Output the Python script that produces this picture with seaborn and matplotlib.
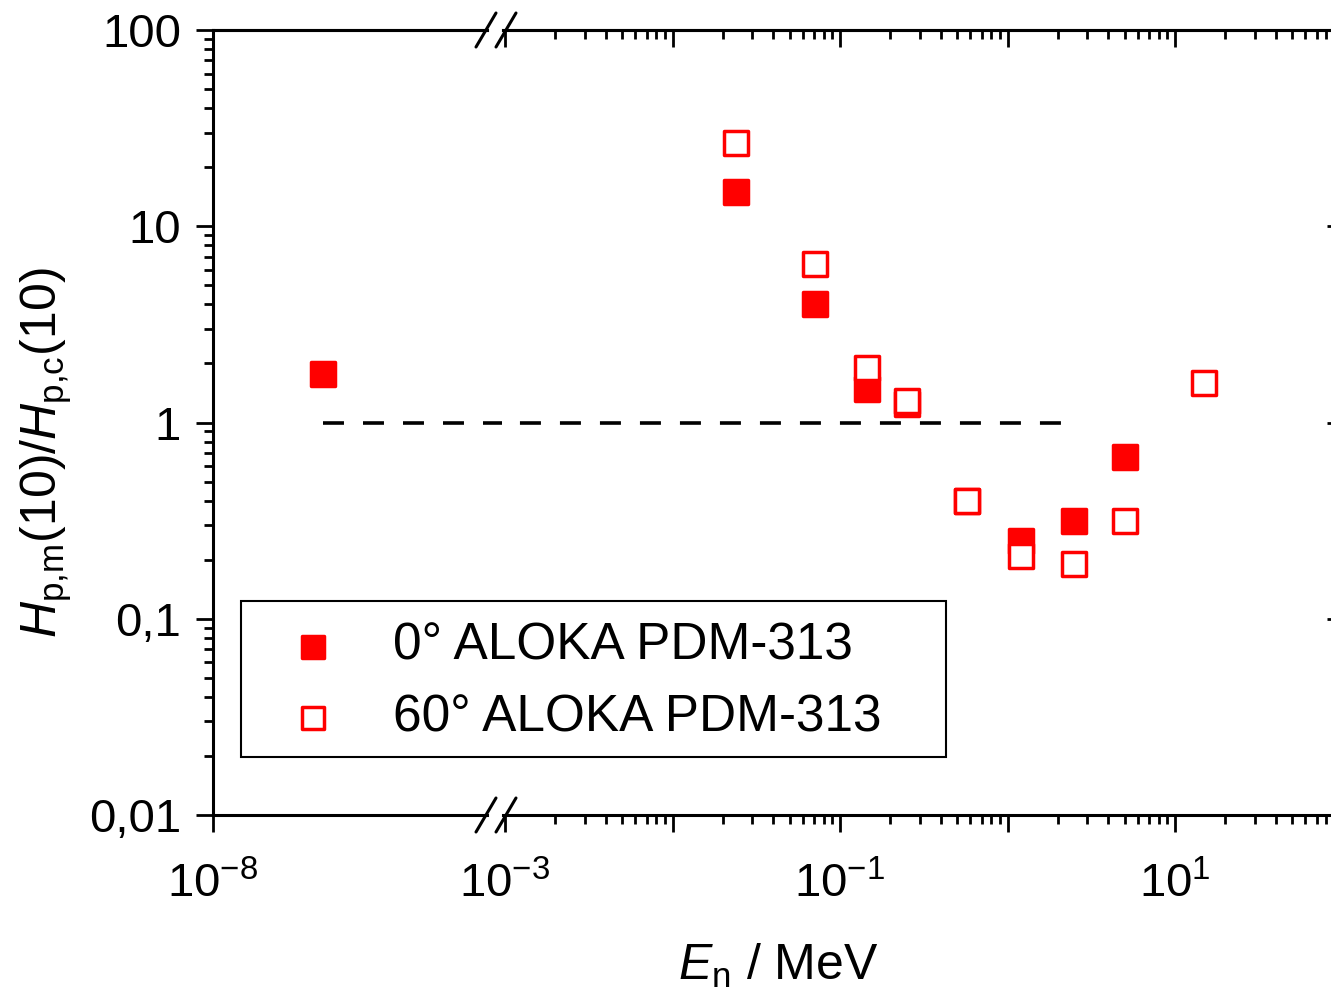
import matplotlib
matplotlib.use("Agg")
import matplotlib.pyplot as plt
import numpy as np
import pandas as pd
import seaborn as sns
from matplotlib.lines import Line2D
from matplotlib.patches import Rectangle
from matplotlib.ticker import LogLocator, NullFormatter

# measured ratios H_p,m(10)/H_p,c(10) for the ALOKA PDM-313
energy_0deg = [2.5e-8, 0.024, 0.071, 0.144, 0.25, 0.57, 1.2, 2.5, 5.0]
ratio_0deg = [1.77, 14.9, 4.0, 1.48, 1.24, 0.40, 0.25, 0.315, 0.667]
energy_60deg = [0.024, 0.071, 0.144, 0.25, 0.57, 1.2, 2.5, 5.0, 14.8]
ratio_60deg = [26.6, 6.4, 1.9, 1.29, 0.40, 0.21, 0.19, 0.315, 1.59]
label_0deg = "0° ALOKA PDM-313"
label_60deg = "60° ALOKA PDM-313"

reference_level = 1.0
reference_span = [2.5e-8, 2.2]

y_ticks = [0.01, 0.1, 1, 10, 100]
y_tick_labels = ["0,01", "0,1", "1", "10", "100"]
x_ticks_left = [1e-8]
x_tick_labels_left = [r"$10^{-8}$"]
x_ticks_right = [1e-3, 1e-2, 1e-1, 1e0, 1e1, 1e2]
x_tick_labels_right = [r"$10^{-3}$", "", r"$10^{-1}$", "", r"$10^{1}$", ""]

left_xlim = (1e-8, 10 ** (-8 + 274 / 276))
right_xlim = (10 ** (-3 - 2 / 167.5), 10 ** (-3 + 839 / 167.5))
y_lim = (0.01, 100)

W, H = 1331, 997
sns.set_style("ticks")
plt.rcParams.update({
    "font.family": ["Liberation Sans", "DejaVu Sans"],
    "mathtext.fontset": "custom",
    "mathtext.rm": "Liberation Sans",
    "mathtext.it": "Liberation Sans:italic",
    "mathtext.bf": "Liberation Sans:bold",
    "lines.scale_dashes": False,
    "text.color": "black",
    "axes.edgecolor": "black",
    "xtick.color": "black",
    "ytick.color": "black",
    "axes.labelcolor": "black",
})

df = pd.concat([
    pd.DataFrame({"energy": energy_0deg, "ratio": ratio_0deg, "series": label_0deg}),
    pd.DataFrame({"energy": energy_60deg, "ratio": ratio_60deg, "series": label_60deg}),
])

fig = plt.figure(figsize=(W / 100, H / 100), dpi=100)
ax_l = fig.add_axes([213 / W, 1 - 815 / H, (487 - 213) / W, 785 / H])
ax_r = fig.add_axes([503 / W, 1 - 815 / H, (1344 - 503) / W, 785 / H], sharey=ax_l)

minor = LogLocator(base=10, subs=np.arange(2, 10), numticks=200)
red = "#ff0000"
lw_spine = 2.2

for ax, xlim in ((ax_l, left_xlim), (ax_r, right_xlim)):
    ax.set_xscale("log")
    ax.set_yscale("log")
    ax.set_xlim(*xlim)
    ax.set_ylim(*y_lim)
    sub = df[(df["energy"] >= xlim[0]) & (df["energy"] <= xlim[1])]
    filled = sub[sub["series"] == label_0deg]
    hollow = sub[sub["series"] == label_60deg]
    if len(filled):
        sns.scatterplot(data=filled, x="energy", y="ratio", marker="s", s=300,
                        color=red, edgecolor=red, linewidth=2.5, zorder=3,
                        label=label_0deg, ax=ax)
    if len(hollow):
        sns.scatterplot(data=hollow, x="energy", y="ratio", marker="s", s=300,
                        color="white", edgecolor=red, linewidth=2.5, zorder=4,
                        label=label_60deg, ax=ax)
    # dashed reference line, continued over the axis break
    if ax is ax_l:
        lo, hi, offset = reference_span[0], 10 ** (-8 + (502 - 213) / 276), 0
    else:
        lo, hi, offset = xlim[0], reference_span[1], 16.6
    ax.plot([lo, hi], [reference_level, reference_level], color="black", lw=2.6,
            linestyle=(offset, (15.1, 13.7)), zorder=2, clip_on=False)
    ax.set_xlabel("")
    ax.set_ylabel("")
    if ax.get_legend() is not None:
        ax.get_legend().remove()
    for s in ax.spines.values():
        s.set_linewidth(lw_spine)
    ax.xaxis.set_minor_locator(minor)
    ax.xaxis.set_minor_formatter(NullFormatter())
    ax.tick_params(axis="x", which="both", direction="out", bottom=True, top=False,
                   width=2, labelsize=34, pad=22)
    ax.tick_params(axis="both", which="major", length=12)
    ax.tick_params(axis="both", which="minor", length=6.5, width=2)
    top = ax.secondary_xaxis("top")
    top.set_xticks(x_ticks_left if ax is ax_l else x_ticks_right)
    top.xaxis.set_minor_locator(minor)
    top.xaxis.set_major_formatter(NullFormatter())
    top.xaxis.set_minor_formatter(NullFormatter())
    top.tick_params(axis="x", which="both", direction="in", width=2)
    top.tick_params(axis="x", which="major", length=12)
    top.tick_params(axis="x", which="minor", length=6.5)
    top.spines["top"].set_linewidth(lw_spine)

ax_l.set_xticks(x_ticks_left, labels=x_tick_labels_left)
ax_r.set_xticks(x_ticks_right, labels=x_tick_labels_right)

ax_l.set_yticks(y_ticks, labels=y_tick_labels)
ax_l.yaxis.set_minor_locator(minor)
ax_l.yaxis.set_minor_formatter(NullFormatter())
ax_l.tick_params(axis="y", which="both", direction="out", left=True, right=False,
                 labelsize=34, pad=11, width=2)
ax_l.spines["right"].set_visible(False)

ax_r.spines["left"].set_visible(False)
ax_r.tick_params(axis="y", which="both", direction="in", left=False, right=True,
                 labelleft=False, labelright=False, width=2)

# break marks on the x axis
for yb in (832, 47):
    for xb in (476, 496):
        fig.add_artist(Line2D([xb / W, (xb + 20) / W], [1 - yb / H, 1 - (yb - 34) / H],
                              transform=fig.transFigure, color="black", lw=2.2))

fig.text(778 / W, 1 - 980 / H, r"$E_{\mathrm{n}}$ / MeV", ha="center", va="baseline",
         fontsize=36)
fig.text(46 / W, 1 - 453 / H, r"$H_{\mathrm{p{,}m}}(10)/H_{\mathrm{p{,}c}}(10)$",
         ha="center", va="center", rotation=90, fontsize=36)

# legend frame drawn separately so the entries can sit where they do in the original
fig.add_artist(Rectangle((241 / W, 1 - 757 / H), 705 / W, 156 / H,
                         transform=fig.transFigure, facecolor="white",
                         edgecolor="black", lw=1.5, zorder=5))
handles, labels = ax_r.get_legend_handles_labels()
leg = fig.legend(handles, labels, loc="upper left",
                 bbox_to_anchor=(282 / W, 1 - 622 / H),
                 borderaxespad=0, borderpad=0, frameon=False, fontsize=37,
                 markerscale=0.92, handlelength=1.2, handletextpad=0.96,
                 labelspacing=0.44)
leg.set_zorder(6)

fig.savefig("out.png", dpi=100)
